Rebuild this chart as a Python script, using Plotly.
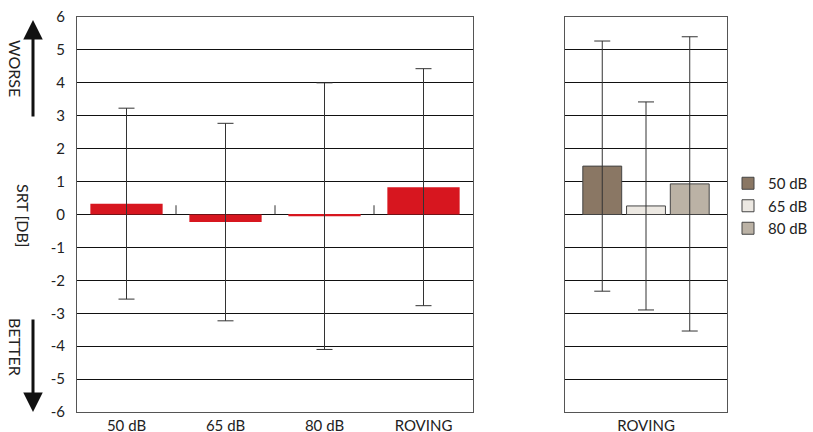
import plotly.graph_objects as go

W, H = 813, 432
categories = ["50 dB", "65 dB", "80 dB", "ROVING"]
left_values = [0.33, -0.23, -0.05, 0.83]
left_err = [2.9, 3.0, 4.05, 3.6]

right_category = ["ROVING"]
right_series = ["50 dB", "65 dB", "80 dB"]
right_values = [1.47, 0.26, 0.93]
right_err = [3.8, 3.16, 4.47]
right_colors = ["#8a7764", "#ece8e2", "#bbb2a5"]
right_offsets = [-0.39, -0.12, 0.15]

yticks = list(range(-6, 7))
ytick_text = [str(v) for v in yticks]

L0, L1, R0, R1 = 77, 473, 565, 727
T, B = 17, 412
FONT = "Lato"

fig = go.Figure()
fig.add_trace(go.Bar(
    x=categories, y=left_values, xaxis="x", yaxis="y",
    marker=dict(color="#d7161f", line=dict(width=0)), width=0.73,
    error_y=dict(type="data", array=left_err, visible=True, color="#333",
                 thickness=1, width=8),
    showlegend=False,
))
for name, v, e, c, off in zip(right_series, right_values, right_err, right_colors, right_offsets):
    fig.add_trace(go.Bar(
        x=right_category, y=[v], name=name, xaxis="x2", yaxis="y2",
        marker=dict(color=c, line=dict(color="#444", width=1)),
        width=0.24, offset=off,
        error_y=dict(type="data", array=[e], visible=True, color="#333",
                     thickness=1, width=8),
    ))

# small separator ticks on the zero line
for i in range(len(categories) - 1):
    fig.add_shape(type="line", xref="x", yref="y", x0=i + 0.5, x1=i + 0.5,
                  y0=0, y1=0.28, line=dict(color="#333", width=1))

yaxis_common = dict(range=[-6, 6], tickvals=yticks, ticktext=ytick_text,
                    showgrid=True, automargin=False,
                    gridcolor="#111", gridwidth=1, zeroline=True,
                    zerolinecolor="#111", zerolinewidth=1,
                    showline=True, linecolor="#555", linewidth=1, mirror=True)

fig.update_layout(
    template="none",
    width=W, height=H,
    margin=dict(l=0, r=0, t=T, b=H - B, autoexpand=False),
    paper_bgcolor="white", plot_bgcolor="white",
    font=dict(family=FONT, size=15, color="#222"),
    barmode="overlay",
    xaxis=dict(domain=[L0 / W, L1 / W], showline=True, linecolor="#555",
               mirror=True, showgrid=False, ticks="", tickfont=dict(size=15),
               range=[-0.5, 3.5], automargin=False, zeroline=False),
    xaxis2=dict(domain=[R0 / W, R1 / W], showline=True, linecolor="#555",
                mirror=True, showgrid=False, ticks="", tickfont=dict(size=15),
                range=[-0.5, 0.5], automargin=False, zeroline=False),
    yaxis=dict(anchor="x", ticks="", ticklabelstandoff=8, tickfont=dict(size=15), **yaxis_common),
    yaxis2=dict(anchor="x2", ticks="", showticklabels=False, matches="y", **yaxis_common),
    legend=dict(x=728 / W, xanchor="left", y=(B - 167) / (B - T), yanchor="top",
                font=dict(size=15), tracegroupgap=0, itemwidth=30,
                bgcolor="rgba(0,0,0,0)"),
)

def px(x):
    return x / W

def py(y):
    return (B - y) / (B - T)

# arrows
fig.add_annotation(xref="paper", yref="paper", x=px(33), y=py(20),
                   ax=0, ay=98, showarrow=True, arrowhead=2, arrowsize=1.3,
                   arrowwidth=3, arrowcolor="#111", text="")
fig.add_annotation(xref="paper", yref="paper", x=px(33), y=py(412),
                   ax=0, ay=-94, showarrow=True, arrowhead=2, arrowsize=1.3,
                   arrowwidth=3, arrowcolor="#111", text="")
for t, x, y in [("WORSE", 16, 68), ("SRT [DB]", 24, 216), ("BETTER", 16, 347)]:
    fig.add_annotation(xref="paper", yref="paper", x=px(x), y=py(y), text=t,
                       xanchor="center", yanchor="middle",
                       showarrow=False, textangle=90, font=dict(size=16, color="#222"))

fig.write_html("out.html", post_script="document.body.style.margin='0';",
               config={"displayModeBar": False})
